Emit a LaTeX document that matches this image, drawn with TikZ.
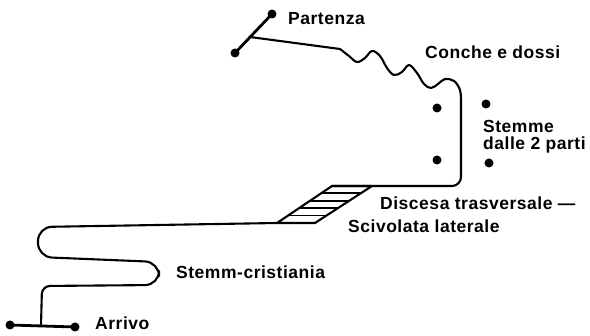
\documentclass[tikz,border=0pt]{standalone}
\usepackage{fontspec}
\setmainfont{Liberation Sans}[LetterSpace=3]
\usetikzlibrary{calc}
\begin{document}
\begin{tikzpicture}[x=1pt,y=-1pt,
  trail/.style={line width=2.1pt,line cap=round,line join=round},
  bar/.style={line width=2.8pt,line cap=round},
  dot/.style={circle,fill=black,inner sep=0pt,minimum size=9pt},
  lbl/.style={anchor=base west,inner sep=0pt,font=\fontsize{17.5}{21}\selectfont\bfseries}]
\useasboundingbox (0,0) rectangle (590,336);
% start gate
\node[dot] (s1) at (235,53) {};
\node[dot] (s2) at (272,14) {};
\draw[bar] (s1.center) -- (s2.center);
\coordinate (p0) at (250,37);
\coordinate (w0) at (340,49);
\draw[trail] (p0) -- (w0);
% bumps
\draw[trail] plot[smooth,tension=0.6] coordinates {(340,49) (349,56) (357,62) (365,58) (372,51) (380,56) (387,68) (394,75) (402,72) (409,65) (417,73) (424,84) (431,88) (438,84) (445,79) (454,81) (460,90) (461,102)};
% parallelogram
\coordinate (pA) at (277,223);
\coordinate (pB) at (315,223);
\coordinate (pC) at (372,186);
\coordinate (pD) at (332,186);
\coordinate (r1) at (461,102);
\coordinate (r2) at (461,186);
\draw[trail,rounded corners=9pt] (r1) -- (r2) -- (pD);
\draw[trail] (pA) -- (pB) -- (pC) -- (pD) -- cycle;
\foreach \t in {0.2,0.4,0.6,0.8}
  \draw[line width=1.8pt] ($(pA)!\t!(pD)$) -- ($(pB)!\t!(pC)$);
% lower switchbacks
\coordinate (u1) at (38,227);
\coordinate (u2) at (38,257);
\coordinate (u3) at (159,262);
\coordinate (u4) at (159,285);
\coordinate (u5) at (42,286);
\coordinate (u6) at (41,326);
\draw[trail,rounded corners=14pt] (pA) -- (u1) -- (u2) -- (u3) -- (u4) [rounded corners=8pt] -- (u5) -- (u6);
% finish gate
\node[dot] (f1) at (10,325) {};
\node[dot] (f2) at (75,327) {};
\draw[bar] (f1.center) -- (f2.center);
% slalom dots
\node[dot] (d1) at (437,108) {};
\node[dot] (d2) at (437,160) {};
\node[dot] (d3) at (486,104) {};
\node[dot] (d4) at (489,163) {};
% labels
\node[lbl] (t1) at (288,25) {Partenza};
\node[lbl] (t2) at (425,59) {Conche e dossi};
\node[lbl] (t3) at (483,133) {Stemme};
\node[lbl] (t4) at (483,150) {dalle 2 parti};
\node[lbl] (t5) at (380,210) {Discesa trasversale —};
\node[lbl] (t6) at (348,233) {Scivolata laterale};
\node[lbl] (t7) at (176,279) {Stemm-cristiania};
\node[lbl] (t8) at (95,330) {Arrivo};
\end{tikzpicture}
\end{document}
